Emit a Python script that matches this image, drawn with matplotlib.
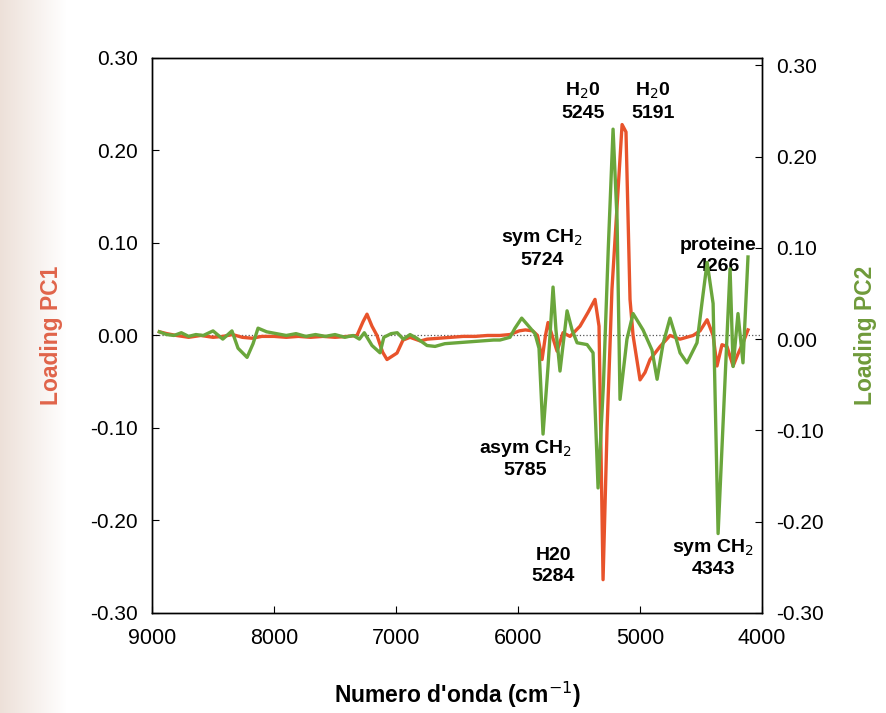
import numpy as np
import matplotlib
matplotlib.use('Agg')
import matplotlib.pyplot as plt

# PC1 loadings (red), wavenumber in cm-1
wn_pc1 = [8940, 8880, 8800, 8700, 8600, 8500, 8420, 8340, 8260, 8180, 8100, 8000,
          7900, 7800, 7700, 7600, 7500, 7400, 7320, 7270, 7238, 7197, 7156, 7110,
          7074, 6992, 6943, 6885, 6800, 6746, 6650, 6550, 6450, 6350, 6250, 6150,
          6066, 5990, 5940, 5880, 5840, 5803, 5775, 5754, 5680, 5631, 5574, 5492,
          5426, 5369, 5336, 5303, 5270, 5230, 5147, 5115, 5082, 5057, 5000, 4959,
          4918, 4836, 4754, 4672, 4565, 4508, 4450, 4401, 4369, 4328, 4287, 4237,
          4197, 4156, 4115]
pc1 = [0.004, 0.002, 0.000, -0.002, 0.000, -0.002, -0.001, 0.001, -0.002, -0.003, -0.001, -0.001,
       -0.002, -0.001, -0.002, -0.001, -0.002, -0.001, 0.000, 0.015, 0.023, 0.010, 0.000, -0.018,
       -0.026, -0.019, -0.005, -0.002, -0.006, -0.004, -0.003, -0.002, -0.001, -0.001, 0.000, 0.000,
       0.001, 0.005, 0.006, 0.005, 0.000, -0.026, 0.000, 0.014, -0.017, 0.003, -0.001, 0.010,
       0.025, 0.039, 0.010, -0.264, -0.100, 0.050, 0.228, 0.220, 0.039, 0.000, -0.048, -0.040,
       -0.026, -0.012, 0.000, -0.004, 0.000, 0.005, 0.017, 0.000, -0.033, -0.010, -0.012, -0.033,
       -0.020, -0.008, 0.006]

# PC2 loadings (green)
wn_pc2 = [8940, 8880, 8820, 8760, 8700, 8640, 8580, 8500, 8420, 8345, 8295, 8221,
          8172, 8131, 8060, 7980, 7900, 7820, 7740, 7660, 7580, 7500, 7420, 7350,
          7300, 7260, 7197, 7131, 7100, 7040, 6990, 6940, 6885, 6830, 6746, 6680,
          6600, 6500, 6400, 6300, 6200, 6148, 6066, 6025, 5970, 5918, 5861, 5828,
          5795, 5754, 5713, 5689, 5656, 5598, 5557, 5516, 5434, 5385, 5344, 5300,
          5260, 5221, 5188, 5164, 5107, 5057, 4975, 4902, 4860, 4811, 4754, 4713,
          4672, 4615, 4533, 4492, 4450, 4401, 4360, 4262, 4237, 4197, 4156, 4115]
pc2 = [0.008, 0.005, 0.004, 0.007, 0.003, 0.005, 0.004, 0.009, 0.000, 0.009, -0.010, -0.020,
       -0.005, 0.012, 0.008, 0.006, 0.004, 0.006, 0.003, 0.005, 0.003, 0.005, 0.002, 0.004,
       0.000, 0.007, -0.007, -0.015, 0.002, 0.006, 0.007, 0.000, 0.005, 0.001, -0.007, -0.008,
       -0.005, -0.004, -0.003, -0.002, -0.001, -0.001, 0.002, 0.012, 0.023, 0.015, 0.006, -0.010,
       -0.104, -0.030, 0.057, 0.010, -0.035, 0.031, 0.010, -0.004, -0.006, -0.015, -0.163, -0.050,
       0.100, 0.230, 0.130, -0.066, 0.000, 0.028, 0.010, -0.012, -0.044, -0.005, 0.023, 0.005,
       -0.015, -0.026, -0.004, 0.040, 0.084, 0.039, -0.213, 0.077, -0.030, 0.028, -0.026, 0.090]

# band annotations: (text, wavenumber, loading)
ann_text = ['H$_2$0\n5245', 'H$_2$0\n5191', 'sym CH$_2$\n5724', 'proteine\n4266',
            'asym CH$_2$\n5785', 'H20\n5284', 'sym CH$_2$\n4343']
ann_wn = [5467, 4893, 5803, 4360, 5942, 5713, 4401]
ann_y = [0.253, 0.253, 0.095, 0.086, -0.133, -0.249, -0.240]

red = '#e8532b'
green = '#6aa63c'

plt.rcParams['font.family'] = ['Liberation Sans', 'DejaVu Sans']

fig = plt.figure(figsize=(8.87, 7.13), dpi=100)

# scanned page tint on the left edge
bg = fig.add_axes([0, 0, 0.075, 1])
grad = np.linspace(0, 1, 64)[None, :, None]
c0 = np.array([0.93, 0.88, 0.85])
bg.imshow(c0 + (1 - c0) * grad, aspect='auto', extent=[0, 1, 0, 1])
bg.axis('off')

ax = fig.add_axes([0.1714, 0.1403, 0.6877, 0.7784])
ax2 = ax.twinx()

ax.axhline(0, color='#555555', lw=0.9, ls=':', zorder=1)
ax.plot(wn_pc1, pc1, color=red, lw=2.4, zorder=2)
ax2.plot(wn_pc2, pc2, color=green, lw=2.4)

ax.set_xlim(9000, 4000)
ax.set_ylim(-0.30, 0.30)
ax2.set_ylim(-0.30, 0.308)

yt = [-0.30, -0.20, -0.10, 0.00, 0.10, 0.20, 0.30]
ax.set_yticks(yt)
ax.set_yticklabels([f'{v:.2f}' for v in yt])
ax2.set_yticks(yt)
ax2.set_yticklabels([f'{v:.2f}' for v in yt])
ax.set_xticks([9000, 8000, 7000, 6000, 5000, 4000])

for a in (ax, ax2):
    a.tick_params(direction='in', length=5, width=0.8, labelsize=15, pad=10)
    for s in a.spines.values():
        s.set_linewidth(1.0)
ax.tick_params(axis='x', labelsize=15.5, pad=11)

ax.set_xlabel("Numero d'onda (cm$^{-1}$)", fontsize=16.5, fontweight='bold', labelpad=22)
ax.set_ylabel('Loading PC1', fontsize=16.5, fontweight='bold', color='#e0644a', labelpad=20)
ax2.set_ylabel('Loading PC2', fontsize=16.5, fontweight='bold', color='#6f9a3a', labelpad=22)

for t, x, y in zip(ann_text, ann_wn, ann_y):
    ax.text(x, y, t, ha='center', va='center', fontsize=14, fontweight='bold',
            linespacing=1.3, zorder=5)

fig.savefig('out.png', dpi=100)
